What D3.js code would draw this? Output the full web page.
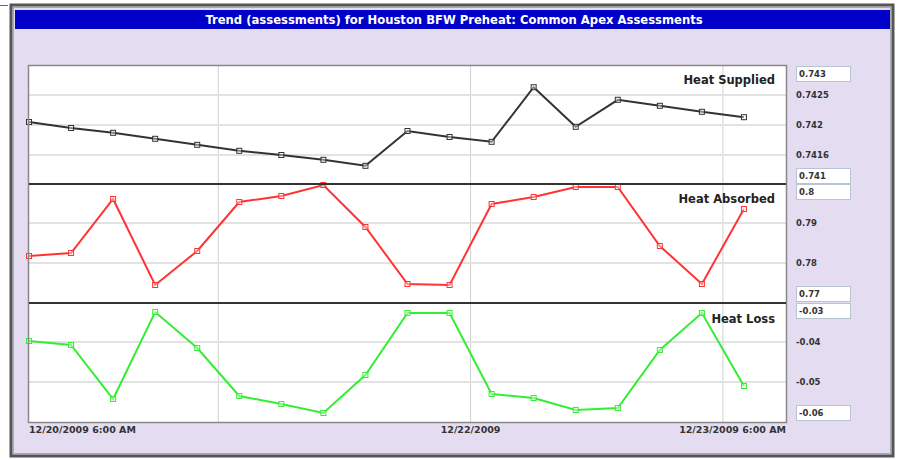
<!DOCTYPE html>
<html>
<head>
<meta charset="utf-8">
<script src="https://cdn.jsdelivr.net/npm/d3@7"></script>
<style>
  body { margin: 0; background: #fff; }
  text { font-family: "DejaVu Sans", Verdana, sans-serif; }
</style>
</head>
<body>
<div class="canvas"></div>
<script>
// readings every 4 hours, 12/20/2009 6:00 AM onwards
const times = [
  "2009-12-20T06:00", "2009-12-20T10:00", "2009-12-20T14:00", "2009-12-20T18:00",
  "2009-12-20T22:00", "2009-12-21T02:00", "2009-12-21T06:00", "2009-12-21T10:00",
  "2009-12-21T14:00", "2009-12-21T18:00", "2009-12-21T22:00", "2009-12-22T02:00",
  "2009-12-22T06:00", "2009-12-22T10:00", "2009-12-22T14:00", "2009-12-22T18:00",
  "2009-12-22T22:00", "2009-12-23T02:00"
];
const heatSupplied = [0.74205, 0.74195, 0.74187, 0.74177, 0.74167, 0.74157, 0.7415, 0.74142, 0.74132,
  0.7419, 0.7418, 0.74172, 0.74263, 0.74197, 0.74242, 0.74232, 0.74222, 0.74213];
const heatAbsorbed = [0.78175, 0.7825, 0.796, 0.7745, 0.783, 0.79525, 0.79675, 0.7995, 0.789,
  0.77475, 0.7745, 0.79475, 0.7965, 0.799, 0.799, 0.78425, 0.77475, 0.7935];
const heatLoss = [-0.03975, -0.04075, -0.05425, -0.0325, -0.0415, -0.0535, -0.0555, -0.05775, -0.04825,
  -0.03275, -0.03275, -0.053, -0.054, -0.057, -0.0565, -0.042, -0.03275, -0.051];

const supTicks = [0.743, 0.7425, 0.742, 0.7415, 0.741];
const supTickLabels = ["0.743", "0.7425", "0.742", "0.7416", "0.741"];
const absTicks = [0.8, 0.79, 0.78, 0.77];
const absTickLabels = ["0.8", "0.79", "0.78", "0.77"];
const lossTicks = [-0.03, -0.04, -0.05, -0.06];
const lossTickLabels = ["-0.03", "-0.04", "-0.05", "-0.06"];

const xLabels = ["12/20/2009 6:00 AM", "12/22/2009", "12/23/2009 6:00 AM"];
const xLabelDates = ["2009-12-20T06:00", "2009-12-22T00:00", "2009-12-23T06:00"];
const gridDates = ["2009-12-21T00:00", "2009-12-22T00:00", "2009-12-23T00:00"];

const W = 897, H = 460;
const svg = d3.select(".canvas").append("svg")
  .attr("width", W).attr("height", H);

// stray red mark top-left
svg.append("line").attr("x1", 0).attr("x2", 8).attr("y1", 5.5).attr("y2", 5.5)
  .attr("stroke", "#e03030").attr("stroke-width", 1);

// outer frame
svg.append("rect").attr("x", 11).attr("y", 5).attr("width", 882).attr("height", 451)
  .attr("fill", "#e4dcf1").attr("stroke", "#555").attr("stroke-width", 3);
svg.append("rect").attr("x", 13.5).attr("y", 7.5).attr("width", 877).attr("height", 446)
  .attr("fill", "none").attr("stroke", "#aaa").attr("stroke-width", 1);

// title bar
svg.append("rect").attr("x", 15).attr("y", 10).attr("width", 875).attr("height", 19)
  .attr("fill", "#0000c8");
svg.append("text").attr("x", 454).attr("y", 23.5).attr("text-anchor", "middle")
  .attr("fill", "#fff").attr("font-weight", "bold").attr("font-size", "11.6px")
  .text("Trend (assessments) for Houston BFW Preheat: Common Apex Assessments");

const parse = d3.timeParse("%Y-%m-%dT%H:%M");
const dates = times.map(parse);
const plotLeft = 29, plotRight = 786;
const x = d3.scaleTime()
  .domain([parse("2009-12-20T06:00"), parse("2009-12-23T06:00")])
  .range([plotLeft, plotRight]);

const plotTop = 65, plotBottom = 422;
// plot background
svg.append("rect").attr("x", plotLeft).attr("y", plotTop)
  .attr("width", plotRight - plotLeft).attr("height", plotBottom - plotTop)
  .attr("fill", "#fff");

const panels = [
  { name: "Heat Supplied", values: heatSupplied, ticks: supTicks, labels: supTickLabels,
    domain: [0.741, 0.743], y0: 185, y1: 65, color: "#333333", labelY: 84 },
  { name: "Heat Absorbed", values: heatAbsorbed, ticks: absTicks, labels: absTickLabels,
    domain: [0.77, 0.8], y0: 303, y1: 183, color: "#ff3333", labelY: 203 },
  { name: "Heat Loss", values: heatLoss, ticks: lossTicks, labels: lossTickLabels,
    domain: [-0.06, -0.03], y0: 422, y1: 302, color: "#33ee33", labelY: 323 }
];

// vertical day gridlines
svg.selectAll(".vgrid").data(gridDates.map(parse)).enter()
  .append("line").attr("class", "vgrid")
  .attr("x1", d => x(d)).attr("x2", d => x(d))
  .attr("y1", plotTop).attr("y2", plotBottom)
  .attr("stroke", "#d0d0d0").attr("stroke-width", 1);

panels.forEach(p => {
  const y = d3.scaleLinear().domain(p.domain).range([p.y0, p.y1]);

  // horizontal gridlines (inner ticks)
  svg.selectAll(null).data(p.ticks.slice(1, -1)).enter()
    .append("line")
    .attr("x1", plotLeft).attr("x2", plotRight)
    .attr("y1", d => y(d)).attr("y2", d => y(d))
    .attr("stroke", "#e2e2e2").attr("stroke-width", 2);

  const line = d3.line().x((d, i) => x(dates[i])).y(d => y(d));
  svg.append("path").datum(p.values)
    .attr("d", line).attr("fill", "none")
    .attr("stroke", p.color).attr("stroke-width", 2);

  svg.selectAll(null).data(p.values).enter()
    .append("rect")
    .attr("x", (d, i) => x(dates[i]) - 2.5).attr("y", d => y(d) - 2.5)
    .attr("width", 5).attr("height", 5)
    .attr("fill", "#fff").attr("fill-opacity", 0.4)
    .attr("stroke", p.color).attr("stroke-width", 1);

  svg.append("text").attr("x", 775).attr("y", p.labelY)
    .attr("text-anchor", "end").attr("font-weight", "bold").attr("font-size", "11.5px")
    .attr("fill", "#222").text(p.name);

  // right labels; end values sit in boxes
  p.ticks.forEach((t, i) => {
    const last = p.ticks.length - 1;
    let cy = y(t);
    let tx = 796;
    if (i === 0) cy = y(t) + 9;
    if (i === last) cy = y(t) - 9;
    if (i === 0 || i === last) {
      tx = 799;
      svg.append("rect").attr("x", 796.5).attr("y", cy - 7.5).attr("width", 54).attr("height", 15)
        .attr("fill", "#fff").attr("stroke", "#b8c4d4").attr("stroke-width", 1);
    }
    svg.append("text").attr("x", tx).attr("y", cy + 3)
      .attr("font-size", "8.5px").attr("font-weight", "bold").attr("fill", "#333")
      .text(p.labels[i]);
  });
});

// panel separators and plot border
svg.append("rect").attr("x", plotLeft - 0.5).attr("y", plotTop + 0.5)
  .attr("width", plotRight - plotLeft + 1).attr("height", plotBottom - plotTop)
  .attr("fill", "none").attr("stroke", "#888").attr("stroke-width", 1.5);
[184, 303].forEach(yy => {
  svg.append("line").attr("x1", plotLeft).attr("x2", plotRight).attr("y1", yy).attr("y2", yy)
    .attr("stroke", "#333").attr("stroke-width", 2);
});

// x labels
const anchors = ["start", "middle", "end"];
xLabelDates.forEach((d, i) => {
  svg.append("text").attr("x", x(parse(d))).attr("y", 433)
    .attr("text-anchor", anchors[i]).attr("font-size", "9.5px").attr("font-weight", "bold")
    .attr("fill", "#333").text(xLabels[i]);
});
</script>
</body>
</html>
